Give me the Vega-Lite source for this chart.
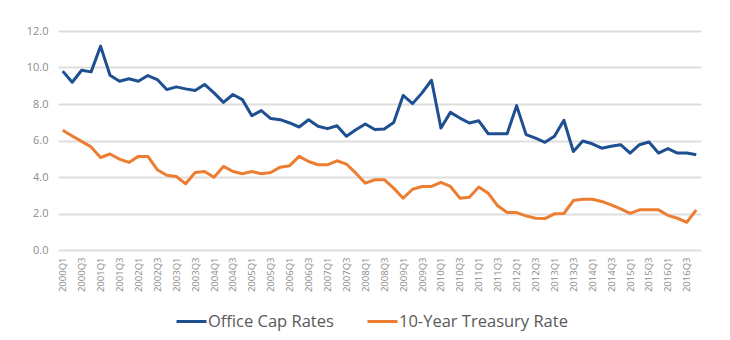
{
  "$schema": "https://vega.github.io/schema/vega-lite/v6.json",
  "width": 643,
  "height": 219,
  "autosize": "none",
  "padding": {"left": 58, "top": 31, "right": 29, "bottom": 90},
  "background": "white",
  "config": {"view": {"stroke": null}, "font": "Open Sans"},
  "datasets": {
    "rates": [
      {"q":"2000Q1","s":"Office Cap Rates","v":9.8},{"q":"2000Q2","s":"Office Cap Rates","v":9.19},{"q":"2000Q3","s":"Office Cap Rates","v":9.85},{"q":"2000Q4","s":"Office Cap Rates","v":9.76},
      {"q":"2001Q1","s":"Office Cap Rates","v":11.17},{"q":"2001Q2","s":"Office Cap Rates","v":9.58},{"q":"2001Q3","s":"Office Cap Rates","v":9.25},{"q":"2001Q4","s":"Office Cap Rates","v":9.38},
      {"q":"2002Q1","s":"Office Cap Rates","v":9.25},{"q":"2002Q2","s":"Office Cap Rates","v":9.56},{"q":"2002Q3","s":"Office Cap Rates","v":9.34},{"q":"2002Q4","s":"Office Cap Rates","v":8.79},
      {"q":"2003Q1","s":"Office Cap Rates","v":8.94},{"q":"2003Q2","s":"Office Cap Rates","v":8.83},{"q":"2003Q3","s":"Office Cap Rates","v":8.74},{"q":"2003Q4","s":"Office Cap Rates","v":9.07},
      {"q":"2004Q1","s":"Office Cap Rates","v":8.61},{"q":"2004Q2","s":"Office Cap Rates","v":8.09},{"q":"2004Q3","s":"Office Cap Rates","v":8.52},{"q":"2004Q4","s":"Office Cap Rates","v":8.24},
      {"q":"2005Q1","s":"Office Cap Rates","v":7.36},{"q":"2005Q2","s":"Office Cap Rates","v":7.64},{"q":"2005Q3","s":"Office Cap Rates","v":7.2},{"q":"2005Q4","s":"Office Cap Rates","v":7.14},
      {"q":"2006Q1","s":"Office Cap Rates","v":6.96},{"q":"2006Q2","s":"Office Cap Rates","v":6.74},{"q":"2006Q3","s":"Office Cap Rates","v":7.14},{"q":"2006Q4","s":"Office Cap Rates","v":6.78},
      {"q":"2007Q1","s":"Office Cap Rates","v":6.65},{"q":"2007Q2","s":"Office Cap Rates","v":6.81},{"q":"2007Q3","s":"Office Cap Rates","v":6.23},{"q":"2007Q4","s":"Office Cap Rates","v":6.59},
      {"q":"2008Q1","s":"Office Cap Rates","v":6.9},{"q":"2008Q2","s":"Office Cap Rates","v":6.6},{"q":"2008Q3","s":"Office Cap Rates","v":6.63},{"q":"2008Q4","s":"Office Cap Rates","v":6.98},
      {"q":"2009Q1","s":"Office Cap Rates","v":8.47},{"q":"2009Q2","s":"Office Cap Rates","v":8.02},{"q":"2009Q3","s":"Office Cap Rates","v":8.61},{"q":"2009Q4","s":"Office Cap Rates","v":9.3},
      {"q":"2010Q1","s":"Office Cap Rates","v":6.68},{"q":"2010Q2","s":"Office Cap Rates","v":7.54},{"q":"2010Q3","s":"Office Cap Rates","v":7.23},{"q":"2010Q4","s":"Office Cap Rates","v":6.96},
      {"q":"2011Q1","s":"Office Cap Rates","v":7.08},{"q":"2011Q2","s":"Office Cap Rates","v":6.37},{"q":"2011Q3","s":"Office Cap Rates","v":6.37},{"q":"2011Q4","s":"Office Cap Rates","v":6.37},
      {"q":"2012Q1","s":"Office Cap Rates","v":7.91},{"q":"2012Q2","s":"Office Cap Rates","v":6.32},{"q":"2012Q3","s":"Office Cap Rates","v":6.13},{"q":"2012Q4","s":"Office Cap Rates","v":5.9},
      {"q":"2013Q1","s":"Office Cap Rates","v":6.23},{"q":"2013Q2","s":"Office Cap Rates","v":7.11},{"q":"2013Q3","s":"Office Cap Rates","v":5.4},{"q":"2013Q4","s":"Office Cap Rates","v":5.97},
      {"q":"2014Q1","s":"Office Cap Rates","v":5.82},{"q":"2014Q2","s":"Office Cap Rates","v":5.58},{"q":"2014Q3","s":"Office Cap Rates","v":5.68},{"q":"2014Q4","s":"Office Cap Rates","v":5.77},
      {"q":"2015Q1","s":"Office Cap Rates","v":5.31},{"q":"2015Q2","s":"Office Cap Rates","v":5.77},{"q":"2015Q3","s":"Office Cap Rates","v":5.92},{"q":"2015Q4","s":"Office Cap Rates","v":5.31},
      {"q":"2016Q1","s":"Office Cap Rates","v":5.55},{"q":"2016Q2","s":"Office Cap Rates","v":5.31},{"q":"2016Q3","s":"Office Cap Rates","v":5.31},{"q":"2016Q4","s":"Office Cap Rates","v":5.22},
      {"q":"2000Q1","s":"10-Year Treasury Rate","v":6.56},{"q":"2000Q2","s":"10-Year Treasury Rate","v":6.25},{"q":"2000Q3","s":"10-Year Treasury Rate","v":5.95},{"q":"2000Q4","s":"10-Year Treasury Rate","v":5.65},
      {"q":"2001Q1","s":"10-Year Treasury Rate","v":5.07},{"q":"2001Q2","s":"10-Year Treasury Rate","v":5.26},{"q":"2001Q3","s":"10-Year Treasury Rate","v":4.98},{"q":"2001Q4","s":"10-Year Treasury Rate","v":4.8},
      {"q":"2002Q1","s":"10-Year Treasury Rate","v":5.13},{"q":"2002Q2","s":"10-Year Treasury Rate","v":5.13},{"q":"2002Q3","s":"10-Year Treasury Rate","v":4.4},{"q":"2002Q4","s":"10-Year Treasury Rate","v":4.1},
      {"q":"2003Q1","s":"10-Year Treasury Rate","v":4.03},{"q":"2003Q2","s":"10-Year Treasury Rate","v":3.63},{"q":"2003Q3","s":"10-Year Treasury Rate","v":4.25},{"q":"2003Q4","s":"10-Year Treasury Rate","v":4.3},
      {"q":"2004Q1","s":"10-Year Treasury Rate","v":3.99},{"q":"2004Q2","s":"10-Year Treasury Rate","v":4.58},{"q":"2004Q3","s":"10-Year Treasury Rate","v":4.3},{"q":"2004Q4","s":"10-Year Treasury Rate","v":4.18},
      {"q":"2005Q1","s":"10-Year Treasury Rate","v":4.3},{"q":"2005Q2","s":"10-Year Treasury Rate","v":4.18},{"q":"2005Q3","s":"10-Year Treasury Rate","v":4.25},{"q":"2005Q4","s":"10-Year Treasury Rate","v":4.54},
      {"q":"2006Q1","s":"10-Year Treasury Rate","v":4.62},{"q":"2006Q2","s":"10-Year Treasury Rate","v":5.13},{"q":"2006Q3","s":"10-Year Treasury Rate","v":4.85},{"q":"2006Q4","s":"10-Year Treasury Rate","v":4.67},
      {"q":"2007Q1","s":"10-Year Treasury Rate","v":4.67},{"q":"2007Q2","s":"10-Year Treasury Rate","v":4.89},{"q":"2007Q3","s":"10-Year Treasury Rate","v":4.71},{"q":"2007Q4","s":"10-Year Treasury Rate","v":4.21},
      {"q":"2008Q1","s":"10-Year Treasury Rate","v":3.66},{"q":"2008Q2","s":"10-Year Treasury Rate","v":3.85},{"q":"2008Q3","s":"10-Year Treasury Rate","v":3.85},{"q":"2008Q4","s":"10-Year Treasury Rate","v":3.39},
      {"q":"2009Q1","s":"10-Year Treasury Rate","v":2.84},{"q":"2009Q2","s":"10-Year Treasury Rate","v":3.33},{"q":"2009Q3","s":"10-Year Treasury Rate","v":3.48},{"q":"2009Q4","s":"10-Year Treasury Rate","v":3.48},
      {"q":"2010Q1","s":"10-Year Treasury Rate","v":3.7},{"q":"2010Q2","s":"10-Year Treasury Rate","v":3.48},{"q":"2010Q3","s":"10-Year Treasury Rate","v":2.84},{"q":"2010Q4","s":"10-Year Treasury Rate","v":2.89},
      {"q":"2011Q1","s":"10-Year Treasury Rate","v":3.45},{"q":"2011Q2","s":"10-Year Treasury Rate","v":3.11},{"q":"2011Q3","s":"10-Year Treasury Rate","v":2.42},{"q":"2011Q4","s":"10-Year Treasury Rate","v":2.05},
      {"q":"2012Q1","s":"10-Year Treasury Rate","v":2.05},{"q":"2012Q2","s":"10-Year Treasury Rate","v":1.87},{"q":"2012Q3","s":"10-Year Treasury Rate","v":1.74},{"q":"2012Q4","s":"10-Year Treasury Rate","v":1.72},
      {"q":"2013Q1","s":"10-Year Treasury Rate","v":1.98},{"q":"2013Q2","s":"10-Year Treasury Rate","v":2.0},{"q":"2013Q3","s":"10-Year Treasury Rate","v":2.71},{"q":"2013Q4","s":"10-Year Treasury Rate","v":2.78},
      {"q":"2014Q1","s":"10-Year Treasury Rate","v":2.78},{"q":"2014Q2","s":"10-Year Treasury Rate","v":2.66},{"q":"2014Q3","s":"10-Year Treasury Rate","v":2.47},{"q":"2014Q4","s":"10-Year Treasury Rate","v":2.25},
      {"q":"2015Q1","s":"10-Year Treasury Rate","v":2.01},{"q":"2015Q2","s":"10-Year Treasury Rate","v":2.2},{"q":"2015Q3","s":"10-Year Treasury Rate","v":2.2},{"q":"2015Q4","s":"10-Year Treasury Rate","v":2.2},
      {"q":"2016Q1","s":"10-Year Treasury Rate","v":1.9},{"q":"2016Q2","s":"10-Year Treasury Rate","v":1.74},{"q":"2016Q3","s":"10-Year Treasury Rate","v":1.52},{"q":"2016Q4","s":"10-Year Treasury Rate","v":2.2}
    ]
  },
  "data": {"name": "rates"},
  "mark": {"type": "line", "strokeWidth": 3, "strokeJoin": "round"},
  "encoding": {
    "x": {
      "field": "q",
      "type": "ordinal",
      "scale": {"type": "point", "padding": 0.5},
      "axis": {
        "title": null,
        "labelAngle": -90,
        "labelExpr": "test(/Q[13]$/, datum.value) ? datum.value : ''",
        "labelFontSize": 9.5,
        "labelColor": "#8c8c8c",
        "labelPadding": 7,
        "ticks": false,
        "domain": false,
        "grid": false,
        "labelOverlap": false
      }
    },
    "y": {
      "field": "v",
      "type": "quantitative",
      "scale": {"domain": [0, 12]},
      "axis": {
        "title": null,
        "values": [0, 2, 4, 6, 8, 10, 12],
        "format": ".1f",
        "labelFontSize": 11,
        "labelColor": "#8c8c8c",
        "labelPadding": 10,
        "ticks": false,
        "domain": false,
        "gridColor": "#dedede",
        "gridWidth": 2
      }
    },
    "color": {
      "field": "s",
      "type": "nominal",
      "scale": {"domain": ["Office Cap Rates", "10-Year Treasury Rate"], "range": ["#1d4f91", "#ed7d31"]},
      "legend": {
        "title": null,
        "orient": "none",
        "direction": "horizontal",
        "legendX": 117,
        "legendY": 274,
        "symbolType": "stroke",
        "symbolSize": 900,
        "symbolStrokeWidth": 3,
        "labelFontSize": 16.5,
        "labelLimit": 400,
        "labelColor": "#595959",
        "labelOffset": 0,
        "columnPadding": 27
      }
    }
  }
}
